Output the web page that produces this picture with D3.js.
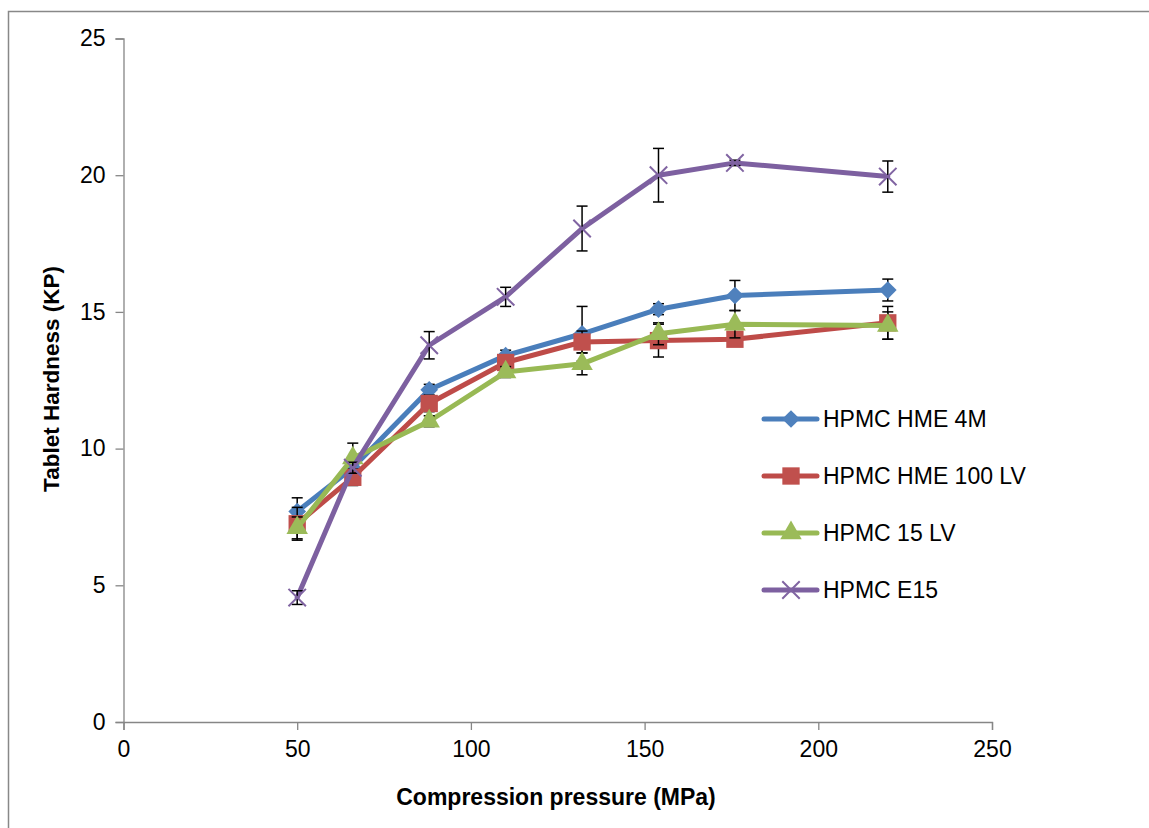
<!DOCTYPE html>
<html>
<head>
<meta charset="utf-8">
<script src="https://cdn.jsdelivr.net/npm/d3@7"></script>
<style>
  body { margin: 0; background: #fff; }
  text { font-family: "Liberation Sans", Arial, sans-serif; fill: #000; }
</style>
</head>
<body>
<svg id="chart" width="1149" height="828"></svg>
<script>
// compression pressure (MPa)
const pressures = [50, 66, 88, 110, 132, 154, 176, 220];

const seriesNames = ['HPMC HME 4M', 'HPMC HME 100 LV', 'HPMC 15 LV', 'HPMC E15'];

// tablet hardness (KP)
const hme4m   = [7.7, 9.3, 12.15, 13.4, 14.2, 15.1, 15.6, 15.8];
const hme100  = [7.25, 8.95, 11.65, 13.15, 13.9, 13.95, 14.0, 14.6];
const lv15    = [7.1, 9.65, 11.0, 12.8, 13.1, 14.2, 14.55, 14.5];
const e15     = [4.55, 9.3, 13.78, 15.55, 18.05, 20.0, 20.45, 19.95];

// standard deviations
const hme4mErr  = [0.5, 0.3, 0.2, 0.2, 1.0, 0.2, 0.55, 0.4];
const hme100Err = [0.6, 0.3, 0.3, 0.2, 0.4, 0.6, 0.2, 0.6];
const lv15Err   = [0.4, 0.55, 0.2, 0.2, 0.4, 0.4, 0.5, 0.5];
const e15Err    = [0.25, 0.2, 0.5, 0.35, 0.82, 0.98, 0.1, 0.57];

const xTicks = [0, 50, 100, 150, 200, 250];
const yTicks = [0, 5, 10, 15, 20, 25];

const svg = d3.select('#chart');
const margin = {left: 123.5, top: 38.5, right: 157, bottom: 106};
const width = 1149, height = 828;
const innerW = width - margin.left - margin.right;
const innerH = height - margin.top - margin.bottom;

// outer chart frame (only top/left visible in the crop)
svg.append('rect')
  .attr('x', 8.5).attr('y', 11.5)
  .attr('width', 1200).attr('height', 900)
  .attr('fill', 'none').attr('stroke', '#888').attr('stroke-width', 1.5);

const g = svg.append('g')
  .attr('transform', `translate(${margin.left}, ${margin.top})`);

const x = d3.scaleLinear().domain([0, 250]).range([0, innerW]);
const y = d3.scaleLinear().domain([0, 25]).range([innerH, 0]);

const xAxis = d3.axisBottom(x).tickValues(xTicks).tickSize(8).tickPadding(11);
const yAxis = d3.axisLeft(y).tickValues(yTicks).tickSize(8).tickPadding(10);

const styleAxis = sel => {
  sel.select('.domain').attr('stroke', '#868686').attr('stroke-width', 1.3);
  sel.selectAll('.tick line').attr('stroke', '#868686').attr('stroke-width', 1.3);
  sel.selectAll('.tick text').style('font-size', '23px').attr('fill', '#000');
};

g.append('g').attr('transform', `translate(0, ${innerH})`).call(xAxis).call(styleAxis);
g.append('g').call(yAxis).call(styleAxis);

svg.append('text')
  .attr('x', 556).attr('y', 805)
  .attr('text-anchor', 'middle')
  .style('font-size', '23px').style('font-weight', 'bold')
  .text('Compression pressure (MPa)');

svg.append('text')
  .attr('transform', 'translate(59, 379) rotate(-90)')
  .attr('text-anchor', 'middle')
  .style('font-size', '22.5px').style('font-weight', 'bold')
  .text('Tablet Hardness (KP)');

const series = [
  {name: seriesNames[0], values: hme4m, err: hme4mErr, line: '#4A7EBB', fill: '#4F81BD', marker: 'diamond'},
  {name: seriesNames[1], values: hme100, err: hme100Err, line: '#BE4B48', fill: '#C0504D', marker: 'square'},
  {name: seriesNames[2], values: lv15, err: lv15Err, line: '#98B954', fill: '#9BBB59', marker: 'triangle'},
  {name: seriesNames[3], values: e15, err: e15Err, line: '#7D60A0', fill: '#8064A2', marker: 'cross'}
];

const markerPath = {
  diamond: d3.symbol(d3.symbolDiamond2, 200),
  square: d3.symbol(d3.symbolSquare, 300),
  triangle: d3.symbol(d3.symbolTriangle, 200),
  cross: d3.symbol(d3.symbolX, 200)
};

const drawMarker = (sel, s, px, py) => {
  const p = sel.append('path')
    .attr('transform', `translate(${px}, ${py})`)
    .attr('d', markerPath[s.marker]());
  if (s.marker === 'cross') {
    p.attr('fill', 'none').attr('stroke', s.fill).attr('stroke-width', 2);
  } else {
    p.attr('fill', s.fill);
  }
  return p;
};

const line = d3.line()
  .x((d, i) => x(pressures[i]))
  .y(d => y(d));

series.forEach(s => {
  const sg = g.append('g');
  sg.append('path')
    .attr('d', line(s.values))
    .attr('fill', 'none')
    .attr('stroke', s.line)
    .attr('stroke-width', 5)
    .attr('stroke-linejoin', 'round')
    .attr('stroke-linecap', 'round');

  // error bars
  s.values.forEach((v, i) => {
    const px = x(pressures[i]);
    const y0 = y(v - s.err[i]), y1 = y(v + s.err[i]);
    sg.append('line').attr('x1', px).attr('x2', px).attr('y1', y0).attr('y2', y1)
      .attr('stroke', '#000').attr('stroke-width', 1.5);
    [y0, y1].forEach(yy => {
      sg.append('line').attr('x1', px - 5.5).attr('x2', px + 5.5).attr('y1', yy).attr('y2', yy)
        .attr('stroke', '#000').attr('stroke-width', 1.5);
    });
  });

  s.values.forEach((v, i) => drawMarker(sg, s, x(pressures[i]), y(v)));
});

// legend
const legendY = [419, 476, 533, 590];
series.forEach((s, i) => {
  const lg = svg.append('g');
  lg.append('line')
    .attr('x1', 764).attr('x2', 817)
    .attr('y1', legendY[i]).attr('y2', legendY[i])
    .attr('stroke', s.line).attr('stroke-width', 5)
    .attr('stroke-linecap', 'round');
  drawMarker(lg, s, 791, legendY[i]);
  lg.append('text')
    .attr('x', 823).attr('y', legendY[i])
    .attr('dy', '0.36em')
    .style('font-size', '23px')
    .text(s.name);
});
</script>
</body>
</html>
